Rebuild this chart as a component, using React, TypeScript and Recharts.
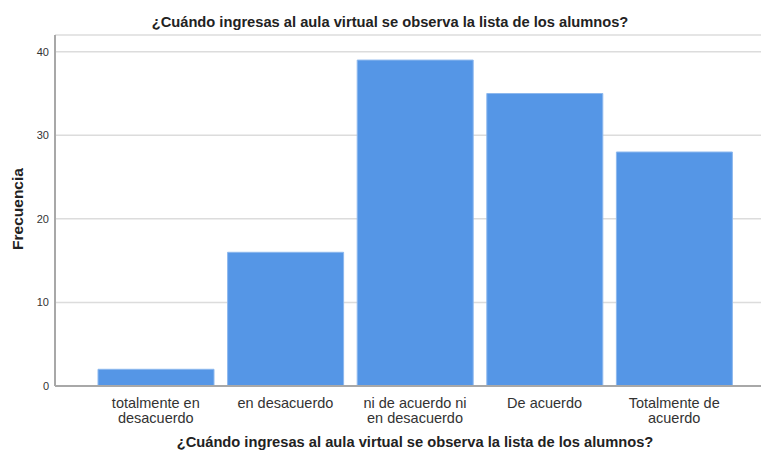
import { Bar, BarChart, CartesianGrid, XAxis, YAxis } from "recharts";

const CATEGORIES = [
  "totalmente en desacuerdo",
  "en desacuerdo",
  "ni de acuerdo ni en desacuerdo",
  "De acuerdo",
  "Totalmente de acuerdo",
];
const TICK_LINES = [
  ["totalmente en", "desacuerdo"],
  ["en desacuerdo"],
  ["ni de acuerdo ni", "en desacuerdo"],
  ["De acuerdo"],
  ["Totalmente de", "acuerdo"],
];
const FRECUENCIA = [2, 16, 39, 35, 28];
const Y_TICKS = [0, 10, 20, 30, 40];

const TITLE = "¿Cuándo ingresas al aula virtual se observa la lista de los alumnos?";
const FONT = "'Liberation Sans', Arial, sans-serif";

const data = CATEGORIES.map((c, i) => ({ name: c, value: FRECUENCIA[i] }));

function CategoryTick(props: any) {
  const { x, y, index } = props;
  const lines = TICK_LINES[index] ?? [];
  return (
    <text x={x} y={y + 14} textAnchor="middle" fill="#333" fontSize={14.5} fontFamily={FONT}>
      {lines.map((l: string, i: number) => (
        <tspan key={i} x={x} dy={i === 0 ? 0 : 15}>
          {l}
        </tspan>
      ))}
    </text>
  );
}

export default function App() {
  return (
    <div style={{ position: "relative", width: 761, height: 452, background: "#fff", fontFamily: FONT }}>
      <style>{`body{margin:0}`}</style>
      <div
        style={{
          position: "absolute",
          left: 0,
          width: 780,
          top: 14,
          lineHeight: "17px",
          textAlign: "center",
          fontWeight: "bold",
          fontSize: 14.7,
          color: "#222",
        }}
      >
        {TITLE}
      </div>
      <div
        style={{
          position: "absolute",
          left: 55,
          width: 720,
          top: 434,
          lineHeight: "17px",
          textAlign: "center",
          fontWeight: "bold",
          fontSize: 14.7,
          color: "#222",
        }}
      >
        {TITLE}
      </div>
      <div
        style={{
          position: "absolute",
          left: 18,
          top: 209,
          transform: "translate(-50%, -50%) rotate(-90deg)",
          fontWeight: "bold",
          fontSize: 15.5,
          color: "#222",
          whiteSpace: "nowrap",
        }}
      >
        Frecuencia
      </div>
      <BarChart
        width={761}
        height={452}
        data={data}
        margin={{ top: 35, right: 0, left: 0, bottom: 0 }}
        style={{ position: "absolute", left: 0, top: 0 }}
      >
        <CartesianGrid vertical={false} stroke="#dcdcdc" strokeWidth={1.5} />
        <XAxis
          dataKey="name"
          height={66}
          tickLine={false}
          axisLine={{ stroke: "#a8a8a8", strokeWidth: 2 }}
          padding={{ left: 36, right: 22 }}
          tick={<CategoryTick />}
          interval={0}
        />
        <YAxis
          width={55}
          domain={[0, 42]}
          ticks={Y_TICKS}
          tickLine={false}
          tickSize={4}
          axisLine={{ stroke: "#a8a8a8", strokeWidth: 2 }}
          tick={{ fill: "#333", fontSize: 11, fontFamily: FONT }}
        />
        <Bar
          dataKey="value"
          fill="#5596e6"
          stroke="#8db8ee"
          strokeWidth={1}
          barSize={116}
          isAnimationActive={false}
        />
      </BarChart>
    </div>
  );
}
